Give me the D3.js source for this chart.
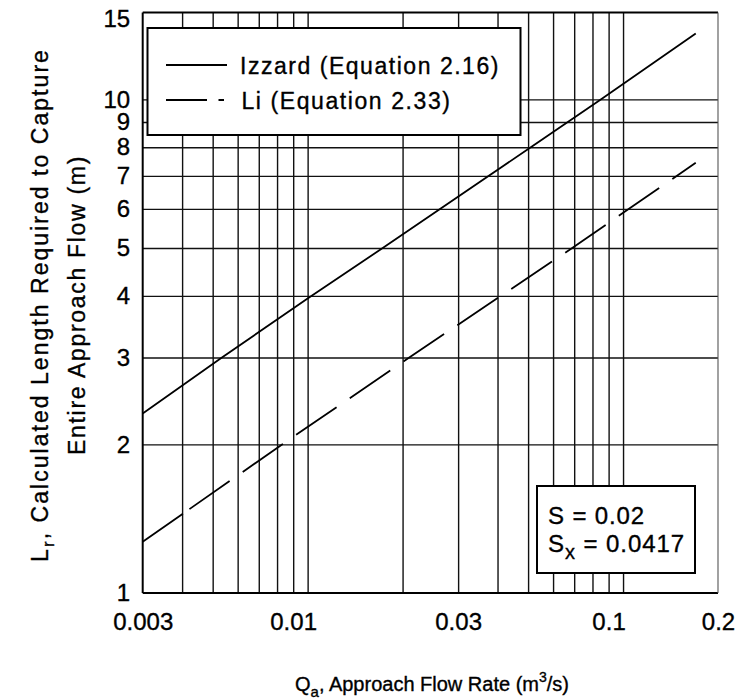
<!DOCTYPE html>
<html>
<head>
<meta charset="utf-8">
<script src="https://cdn.jsdelivr.net/npm/d3@7"></script>
<style>
  body { margin: 0; background: #fff; }
  svg { display: block; }
  text { font-family: "Liberation Sans", Arial, Helvetica, sans-serif; fill: #000; stroke: #000; stroke-width: 0.35; }
</style>
</head>
<body>
<svg id="chart" width="738" height="700"></svg>
<script>
// Approach flow rate Qa (m^3/s) and calculated length Lr (m)
const izzardQ = [0.003, 0.00535, 0.01, 0.0173, 0.051, 0.085, 0.17];
const izzardL = [2.31, 3, 3.95, 5, 8, 10, 13.6];
const liQ = [0.003, 0.0083, 0.021, 0.041, 0.069, 0.17];
const liL = [1.27, 2, 3, 4, 5, 7.44];

// Grid and tick values
const xGridValues = [0.004, 0.005, 0.006, 0.007, 0.008, 0.009, 0.01,
                     0.02, 0.03, 0.04, 0.05, 0.06, 0.07, 0.08, 0.09, 0.1];
const yGridValues = [2, 3, 4, 5, 6, 7, 8, 9, 10];
const xTickValues = [0.003, 0.01, 0.03, 0.1, 0.2];
const yTickValues = [1, 2, 3, 4, 5, 6, 7, 8, 9, 10, 15];

const legendLabels = ["Izzard (Equation 2.16)", "Li (Equation 2.33)"];
const slopeLabel = "S = 0.02";
const crossSlopeValue = " = 0.0417";

const svg = d3.select("#chart");
const plot = { left: 142.7, right: 718, top: 12.5, bottom: 593 };

const x = d3.scaleLog().domain([0.003, 0.2]).range([plot.left, plot.right]);
const y = d3.scaleLog().domain([1, 15]).range([plot.bottom, plot.top]);

// spread characters so a text line spans the given width
function fitWidth(sel, target) {
  const node = sel.node();
  sel.attr("letter-spacing", 0);
  const natural = node.getComputedTextLength();
  const n = node.textContent.length;
  sel.attr("letter-spacing", ((target - natural) / n).toFixed(2));
}

// vertical grid lines
const xGrid = svg.append("g")
  .attr("transform", `translate(0,${plot.top})`)
  .call(d3.axisBottom(x).tickValues(xGridValues)
    .tickSize(plot.bottom - plot.top).tickFormat(""));
xGrid.select(".domain").remove();
xGrid.selectAll(".tick line").attr("stroke", "#111").attr("stroke-width", 1.4);

// horizontal grid lines
const yGrid = svg.append("g")
  .attr("transform", `translate(${plot.left},0)`)
  .call(d3.axisRight(y).tickValues(yGridValues)
    .tickSize(plot.right - plot.left).tickFormat(""));
yGrid.select(".domain").remove();
yGrid.selectAll(".tick line").attr("stroke", "#111").attr("stroke-width", 1.4);

// frame: heavy left/top/bottom, light right edge
const frame = svg.append("g").attr("fill", "none");
frame.append("line").attr("x1", plot.left).attr("x2", plot.right)
  .attr("y1", plot.top).attr("y2", plot.top).attr("stroke", "#000").attr("stroke-width", 2);
frame.append("line").attr("x1", plot.left).attr("x2", plot.right)
  .attr("y1", plot.bottom).attr("y2", plot.bottom).attr("stroke", "#000").attr("stroke-width", 2);
frame.append("line").attr("x1", plot.left).attr("x2", plot.left)
  .attr("y1", plot.top).attr("y2", plot.bottom).attr("stroke", "#000").attr("stroke-width", 2);
frame.append("line").attr("x1", plot.right).attr("x2", plot.right)
  .attr("y1", plot.top).attr("y2", plot.bottom).attr("stroke", "#555").attr("stroke-width", 1.1);

// tick labels
const xLabelShift = { 0.01: -14.5, 0.1: -14.5 };
const xAxis = svg.append("g")
  .attr("transform", `translate(0,${plot.bottom})`)
  .call(d3.axisBottom(x).tickValues(xTickValues).tickSize(0).tickPadding(20)
    .tickFormat(d => String(d)));
xAxis.select(".domain").remove();
xAxis.selectAll(".tick text")
  .attr("font-size", 24).attr("font-family", null)
  .attr("dx", d => xLabelShift[d] || 0);

const yLabelShift = { 15: 6 };
const yAxis = svg.append("g")
  .attr("transform", `translate(${plot.left},0)`)
  .call(d3.axisLeft(y).tickValues(yTickValues).tickSize(0).tickPadding(12.5)
    .tickFormat(d => String(d)));
yAxis.select(".domain").remove();
yAxis.selectAll(".tick text")
  .attr("font-size", 24).attr("font-family", null)
  .attr("transform", d => `translate(0,${yLabelShift[d] || 0})`);

// curves
const line = d3.line().x(d => x(d[0])).y(d => y(d[1]));
svg.append("path")
  .datum(d3.zip(izzardQ, izzardL))
  .attr("d", line).attr("fill", "none")
  .attr("stroke", "#000").attr("stroke-width", 1.8);

const liDash = [49, 8].concat(...d3.range(10).map(() => [49, 16])).join(",");
svg.append("path")
  .datum(d3.zip(liQ, liL))
  .attr("d", line).attr("fill", "none")
  .attr("stroke", "#000").attr("stroke-width", 1.8)
  .attr("stroke-dasharray", liDash);

// legend
const legend = svg.append("g");
legend.append("rect").attr("x", 147.5).attr("y", 28).attr("width", 373).attr("height", 107)
  .attr("fill", "#fff").attr("stroke", "#000").attr("stroke-width", 2);
legend.append("line").attr("x1", 166).attr("x2", 227).attr("y1", 65).attr("y2", 65)
  .attr("stroke", "#000").attr("stroke-width", 1.8);
legend.append("line").attr("x1", 166).attr("x2", 224).attr("y1", 100).attr("y2", 100)
  .attr("stroke", "#000").attr("stroke-width", 1.8).attr("stroke-dasharray", "41,11.5");
const legIz = legend.append("text").attr("x", 240).attr("y", 73.5)
  .attr("font-size", 23).text(legendLabels[0]);
fitWidth(legIz, 260);
const legLi = legend.append("text").attr("x", 241.5).attr("y", 109)
  .attr("font-size", 23).text(legendLabels[1]);
fitWidth(legLi, 210);

// slope annotation
const note = svg.append("g");
note.append("rect").attr("x", 537).attr("y", 486).attr("width", 158).attr("height", 87)
  .attr("fill", "#fff").attr("stroke", "#000").attr("stroke-width", 2);
const s1 = note.append("text").attr("x", 548).attr("y", 523.5)
  .attr("font-size", 24).text(slopeLabel);
fitWidth(s1, 97);
const s2 = note.append("text").attr("x", 548).attr("y", 552).attr("font-size", 24);
s2.append("tspan").text("S");
s2.append("tspan").attr("font-size", 20).attr("dy", 7).text("x");
s2.append("tspan").attr("dy", -7).text(crossSlopeValue);
fitWidth(s2, 137);

// axis titles
const xt = svg.append("text").attr("x", 432).attr("y", 691)
  .attr("text-anchor", "middle").attr("font-size", 20);
xt.append("tspan").text("Q");
xt.append("tspan").attr("font-size", 15).attr("dy", 6).text("a");
xt.append("tspan").attr("dy", -6).text(", Approach Flow Rate (m");
xt.append("tspan").attr("font-size", 14).attr("dy", -9).text("3");
xt.append("tspan").attr("dy", 9).text("/s)");

const yt1 = svg.append("text")
  .attr("transform", "translate(48,305) rotate(-90)")
  .attr("text-anchor", "middle").attr("font-size", 23);
yt1.append("tspan").text("L");
yt1.append("tspan").attr("font-size", 17).attr("dy", 6).text("r");
yt1.append("tspan").attr("dy", -6).text(", Calculated Length Required to Capture");
fitWidth(yt1, 514);

const yt2 = svg.append("text")
  .attr("transform", "translate(85,305) rotate(-90)")
  .attr("text-anchor", "middle").attr("font-size", 23)
  .text("Entire Approach Flow (m)");
fitWidth(yt2, 300);
</script>
</body>
</html>
